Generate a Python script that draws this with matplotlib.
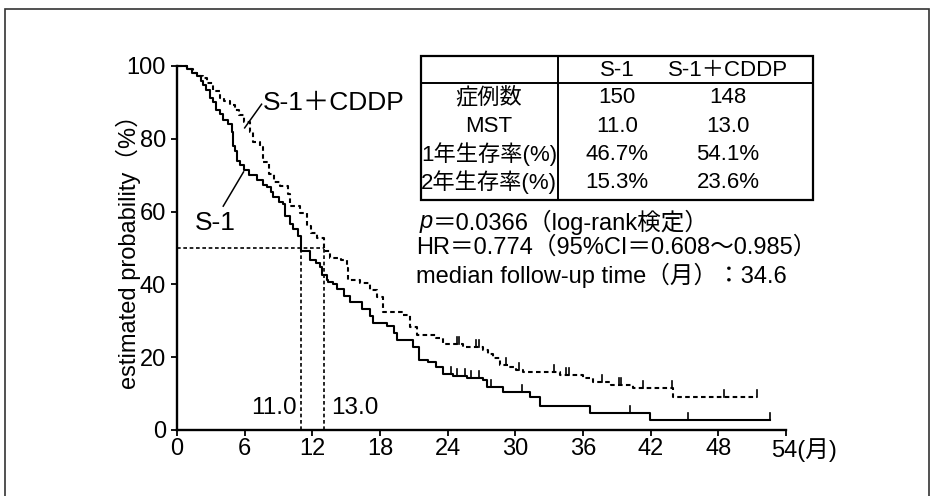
import numpy as np
import matplotlib
matplotlib.use("Agg")
import matplotlib.pyplot as plt
import matplotlib.transforms as mtransforms
from matplotlib.lines import Line2D
from matplotlib.patches import Rectangle

plt.rcParams['font.family'] = ['Liberation Sans', 'Noto Sans CJK JP', 'DejaVu Sans']

# --- Kaplan-Meier estimates (months, % surviving) ---
s1_times = [0, 0.9, 1.3, 1.8, 2.1, 2.3, 2.6, 2.9, 3.2, 3.5, 3.8, 4.1, 4.5, 4.9, 5.0,
            5.1, 5.3, 5.6, 5.9, 6.4, 7.1, 7.6, 8.0, 8.3, 8.5, 9.0, 9.4, 9.6, 10.0,
            10.3, 10.7, 11.0, 11.8, 12.3, 12.7, 12.9, 13.3, 13.4, 13.8, 14.2, 14.8,
            15.3, 16.4, 17.1, 17.4, 18.6, 19.2, 19.5, 20.9, 21.5, 22.3, 23.0, 23.6,
            24.5, 25.7, 27.1, 27.5, 28.9, 31.3, 32.2, 36.6, 41.9]
s1_surv = [100, 99.3, 98.0, 97.3, 96.0, 94.7, 93.3, 91.3, 90.0, 88.0, 86.7, 85.3,
           84.0, 82.0, 78.0, 76.7, 74.0, 72.7, 71.3, 70.0, 68.7, 67.3, 66.7, 65.3,
           64.0, 62.7, 62.0, 58.7, 56.7, 55.3, 53.3, 49.3, 46.7, 46.0, 44.7, 42.7,
           41.3, 40.7, 40.0, 38.7, 36.7, 35.3, 33.3, 31.3, 29.3, 28.7, 26.7, 24.7,
           22.7, 19.3, 18.7, 17.3, 15.3, 14.8, 14.3, 13.7, 11.8, 10.4, 9.1, 6.6,
           4.7, 2.7]
s1_end = 52.6
s1_censor = [24.3, 24.8, 25.5, 26.1, 26.8, 27.8, 30.6, 40.2, 45.3, 52.6]

cddp_times = [0, 0.9, 1.4, 1.8, 2.3, 2.7, 3.2, 3.8, 4.2, 4.7, 5.1, 5.5, 5.9, 6.5,
              6.7, 7.4, 7.6, 8.2, 8.6, 9.1, 9.8, 10.0, 10.9, 11.5, 11.9, 12.4,
              13.0, 13.6, 14.5, 15.1, 15.2, 16.2, 17.1, 17.7, 18.3, 20.0, 20.7,
              21.3, 23.0, 23.6, 25.4, 27.1, 27.6, 28.0, 28.6, 29.4, 30.1, 30.7,
              34.0, 36.0, 36.9, 38.5, 40.4, 44.0]
cddp_surv = [100, 99.3, 98.0, 97.3, 96.6, 95.3, 93.2, 91.2, 90.5, 89.2, 87.8,
             86.5, 84.5, 81.8, 79.1, 77.7, 73.6, 70.3, 68.2, 66.9, 64.9, 61.5,
             59.5, 56.1, 54.1, 52.7, 49.3, 47.3, 46.6, 44.6, 41.2, 40.5, 38.5,
             36.5, 32.4, 31.6, 28.3, 26.0, 25.3, 23.6, 22.8, 22.0, 21.0, 19.8,
             17.9, 17.2, 16.5, 15.9, 15.1, 14.3, 13.2, 12.4, 11.5, 9.1]
cddp_end = 51.4
cddp_censor = [24.8, 25.0, 26.5, 26.8, 29.2, 30.3, 33.4, 34.5, 34.8, 37.7, 39.2,
               39.4, 41.3, 43.9, 48.5, 51.4]

median_s1 = 11.0
median_cddp = 13.0

x_ticks = [0, 6, 12, 18, 24, 30, 36, 42, 48, 54]
x_tick_labels = ['0', '6', '12', '18', '24', '30', '36', '42', '48', '54(月)']
y_ticks = [0, 20, 40, 60, 80, 100]

table_header = ['S-1', 'S-1＋CDDP']
row_labels = ['症例数', 'MST', '1年生存率(%)', '2年生存率(%)']
s1_column = ['150', '11.0', '46.7%', '15.3%']
cddp_column = ['148', '13.0', '54.1%', '23.6%']

stats_lines = ['＝0.0366（log-rank検定）',
               'HR＝0.774（95%CI＝0.608～0.985）',
               'median follow-up time（月）：34.6']

W, H = 933, 496
fig = plt.figure(figsize=(W / 100, H / 100), dpi=100)
fig.patch.set_facecolor('white')


def px(x, y):
    return x / W, 1 - y / H


# outer frame
fig.add_artist(Rectangle(px(5, 520), (929 - 5) / W, (520 - 9) / H,
                         transform=fig.transFigure, fill=False,
                         edgecolor='#333333', lw=1.2))

x0, x1 = 177, 786
y0, y1 = 430, 66
ax = fig.add_axes([x0 / W, 1 - y0 / H, (x1 - x0) / W, (y0 - y1) / H])
ax.set_xlim(0, 54)
ax.set_ylim(0, 100)
for side in ('top', 'right'):
    ax.spines[side].set_visible(False)
for side in ('left', 'bottom'):
    ax.spines[side].set_linewidth(1.7)
ax.set_xticks(x_ticks)
ax.set_xticklabels(x_tick_labels)
ax.set_yticks(y_ticks)
ax.tick_params(axis='both', direction='out', length=4, width=1.3,
               labelsize=17, colors='black')
ax.tick_params(axis='x', pad=2)
ax.tick_params(axis='y', pad=4)
ax.patch.set_alpha(0)

# the unit label on the last tick reads to the right of the number
last = ax.get_xticklabels()[-1]
last.set_ha('left')
last.set_transform(last.get_transform() +
                   mtransforms.ScaledTranslation(-0.15, 0, fig.dpi_scale_trans))


def km_curve(times, surv, end):
    return list(times) + [end], list(surv) + [surv[-1]]


def surv_at(times, surv, t):
    idx = np.searchsorted(np.asarray(times), t, side='right') - 1
    return np.asarray(surv)[idx]


dash = (0, (2.2, 1.6))
xs, ys = km_curve(s1_times, s1_surv, s1_end)
ax.step(xs, ys, where='post', color='black', lw=1.5, clip_on=False)
xc, yc = km_curve(cddp_times, cddp_surv, cddp_end)
ax.step(xc, yc, where='post', color='black', lw=1.5, ls=dash, clip_on=False)

for t in s1_censor:
    v = surv_at(s1_times, s1_surv, t)
    ax.plot([t, t], [v, v + 2.0], color='black', lw=1.2)
for t in cddp_censor:
    v = surv_at(cddp_times, cddp_surv, t)
    ax.plot([t, t], [v, v + 2.0], color='black', lw=1.2)

# median survival guides
ax.plot([0, median_cddp], [50, 50], color='black', lw=1.2, ls=dash)
ax.plot([median_s1, median_s1], [0, 50], color='black', lw=1.2, ls=dash)
ax.plot([median_cddp, median_cddp], [0, 50], color='black', lw=1.2, ls=dash)
ax.text(median_s1 - 0.4, 6, f'{median_s1:.1f}', ha='right', va='center', fontsize=17.5)
ax.text(median_cddp + 0.7, 6, f'{median_cddp:.1f}', ha='left', va='center', fontsize=17.5)

# curve labels
ax.text(7.6, 89.8, 'S-1＋CDDP', ha='left', va='center', fontsize=19)
ax.plot([7.5, 6.0], [89.5, 83.0], color='black', lw=1.1)
ax.text(1.6, 57, 'S-1', ha='left', va='center', fontsize=19)
ax.plot([4.1, 5.9], [61.5, 70.9], color='black', lw=1.1)

fig.text(*px(128, 246), 'estimated probability（%）', rotation=90,
         ha='center', va='center', fontsize=17)

# summary table
tl, tr, tt, tb = 421, 813, 56, 200
div_x, hdr_y = 558, 83
fig.add_artist(Rectangle(px(tl, tb), (tr - tl) / W, (tb - tt) / H,
                         transform=fig.transFigure, fill=False,
                         edgecolor='black', lw=1.6))
fig.add_artist(Line2D([tl / W, tr / W], [1 - hdr_y / H] * 2, color='black', lw=1.4))
fig.add_artist(Line2D([div_x / W] * 2, [1 - tt / H, 1 - tb / H], color='black', lw=1.4))

col_lab, col_s1, col_cddp = 489, 617, 728
fig.text(*px(col_s1, 70), table_header[0], ha='center', va='center', fontsize=16)
fig.text(*px(col_cddp, 70), table_header[1], ha='center', va='center', fontsize=16)
row_y = [98, 126, 154, 182]
for lab, a, b, yy in zip(row_labels, s1_column, cddp_column, row_y):
    fig.text(*px(col_lab, yy), lab, ha='center', va='center', fontsize=16)
    fig.text(*px(col_s1, yy), a, ha='center', va='center', fontsize=16)
    fig.text(*px(col_cddp, yy), b, ha='center', va='center', fontsize=16)

# test statistics
fig.text(*px(420, 222), 'p', ha='left', va='center', fontsize=17, style='italic')
fig.text(*px(433, 222), stats_lines[0], ha='left', va='center', fontsize=17)
fig.text(*px(416, 248), stats_lines[1], ha='left', va='center', fontsize=17)
fig.text(*px(416, 275), stats_lines[2], ha='left', va='center', fontsize=17)

fig.savefig('out.png', dpi=100, facecolor='white')
